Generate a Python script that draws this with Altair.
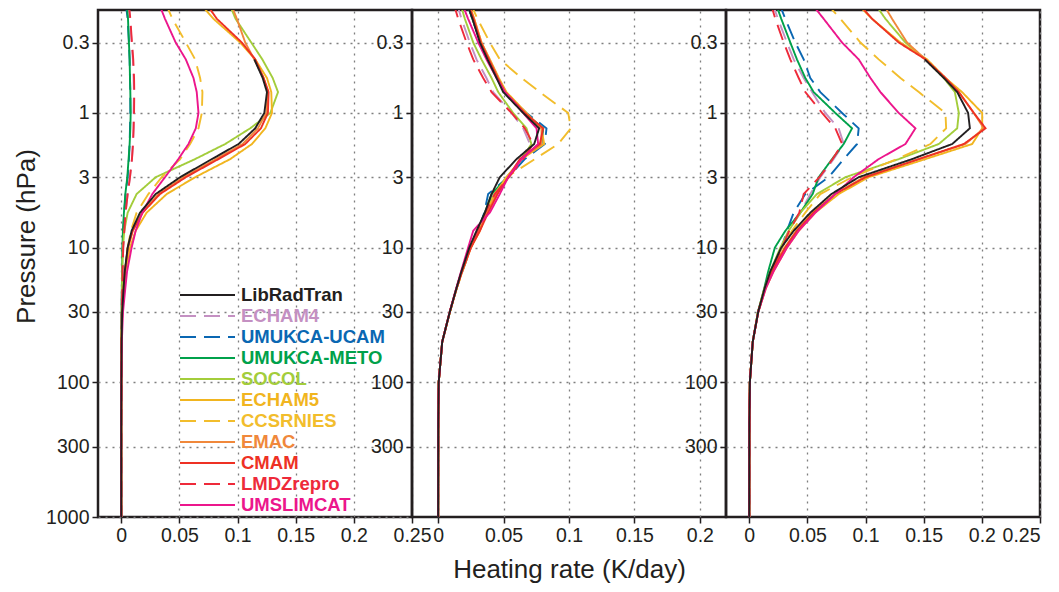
import altair as alt
import pandas as pd

LEVELS = [0.15, 0.2, 0.3, 0.4, 0.55, 0.7, 1.0, 1.3, 1.7, 2.2, 3.0, 4.0, 5.5, 7.5, 10, 15, 20, 30, 50, 100, 200, 1000]

MODELS = ["LibRadTran", "ECHAM4", "UMUKCA-UCAM", "UMUKCA-METO", "SOCOL", "ECHAM5",
          "CCSRNIES", "EMAC", "CMAM", "LMDZrepro", "UMSLIMCAT"]
COLORS = ["#231f20", "#c490c2", "#0a67b2", "#00a14b", "#a3cd3b", "#f1b51f",
          "#f2bd2c", "#f0883b", "#ee3124", "#ee2a3a", "#ec168c"]
DASHES = [[1, 0], [16, 8], [16, 8], [1, 0], [1, 0], [1, 0],
          [16, 8], [1, 0], [1, 0], [16, 8], [1, 0]]
DRAW_ORDER = ["ECHAM4", "UMUKCA-UCAM", "UMUKCA-METO", "SOCOL", "ECHAM5", "CCSRNIES",
              "EMAC", "CMAM", "LMDZrepro", "UMSLIMCAT", "LibRadTran"]

# Panel 1
A_LIBRADTRAN = [None, None, None, 0.1144, 0.1216, 0.1253, 0.1230, 0.1152, 0.1009, 0.0779, 0.0506, 0.0296, 0.0161, 0.0089, 0.0055, 0.0030, 0.0020, 0.0008, 0.0003, 0.0001, 0.0, 0.0]
A_ECHAM4 = [0.0060, 0.0075, 0.0089, 0.0100, 0.0106, 0.0109, 0.0106, 0.0106, 0.0100, 0.0092, 0.0075, 0.0055, 0.0037, 0.0026, 0.0017, 0.0011, 0.0009, 0.0004, 0.0002, 0.0001, 0.0, 0.0]
A_UCAM = [0.0037, 0.0055, 0.0066, 0.0072, 0.0075, 0.0078, 0.0078, 0.0075, 0.0072, 0.0066, 0.0055, 0.0037, 0.0026, 0.0017, 0.0012, 0.0009, 0.0006, 0.0003, 0.0001, 0.0, 0.0, 0.0]
A_METO = [0.0046, 0.0058, 0.0066, 0.0072, 0.0075, 0.0078, 0.0081, 0.0078, 0.0072, 0.0063, 0.0052, 0.0035, 0.0023, 0.0014, 0.0010, 0.0007, 0.0005, 0.0003, 0.0001, 0.0, 0.0, 0.0]
A_SOCOL = [0.0923, 0.0983, 0.1118, 0.1213, 0.1302, 0.1348, 0.1282, 0.1109, 0.0894, 0.0635, 0.0296, 0.0132, 0.0055, 0.0026, 0.0014, 0.0009, 0.0006, 0.0003, 0.0001, 0.0, 0.0, 0.0]
A_ECHAM5 = [0.0664, 0.0793, 0.1023, 0.1152, 0.1253, 0.1290, 0.1296, 0.1239, 0.1124, 0.0937, 0.0635, 0.0391, 0.0218, 0.0124, 0.0075, 0.0037, 0.0023, 0.0009, 0.0003, 0.0001, 0.0, 0.0]
A_CCSRNIES = [0.0376, 0.0440, 0.0555, 0.0635, 0.0678, 0.0698, 0.0693, 0.0664, 0.0592, 0.0506, 0.0348, 0.0233, 0.0132, 0.0083, 0.0055, 0.0032, 0.0020, 0.0008, 0.0003, 0.0001, 0.0, 0.0]
A_EMAC = [0.0937, 0.0994, 0.1066, 0.1144, 0.1224, 0.1261, 0.1247, 0.1175, 0.1043, 0.0813, 0.0534, 0.0319, 0.0181, 0.0098, 0.0057, 0.0032, 0.0020, 0.0008, 0.0003, 0.0001, 0.0, 0.0]
A_CMAM = [0.0721, 0.0822, 0.1037, 0.1152, 0.1224, 0.1267, 0.1261, 0.1201, 0.1066, 0.0836, 0.0555, 0.0333, 0.0184, 0.0098, 0.0057, 0.0032, 0.0020, 0.0008, 0.0003, 0.0001, 0.0, 0.0]
A_LMDZ = [0.0063, 0.0078, 0.0092, 0.0103, 0.0110, 0.0112, 0.0110, 0.0106, 0.0101, 0.0092, 0.0075, 0.0055, 0.0037, 0.0026, 0.0017, 0.0011, 0.0009, 0.0004, 0.0002, 0.0001, 0.0, 0.0]
A_UMSLIMCAT = [0.0319, 0.0376, 0.0468, 0.0555, 0.0621, 0.0649, 0.0664, 0.0641, 0.0578, 0.0491, 0.0376, 0.0267, 0.0181, 0.0124, 0.0089, 0.0050, 0.0035, 0.0015, 0.0005, 0.0001, 0.0, 0.0]

# Panel 2
B_LIBRADTRAN = [0.0217, 0.0262, 0.0319, 0.0377, 0.0446, 0.0497, 0.0650, 0.0772, 0.0734, 0.0599, 0.0471, 0.0408, 0.0357, 0.0293, 0.0238, 0.0178, 0.0140, 0.0089, 0.0031, 0.0004, 0.0001, 0.0]
B_ECHAM4 = [0.0140, 0.0178, 0.0242, 0.0293, 0.0369, 0.0420, 0.0561, 0.0650, 0.0701, 0.0637, 0.0522, 0.0420, 0.0357, 0.0306, 0.0245, 0.0180, 0.0140, 0.0089, 0.0031, 0.0004, 0.0001, 0.0]
B_UCAM = [0.0217, 0.0262, 0.0324, 0.0387, 0.0454, 0.0510, 0.0675, 0.0828, 0.0815, 0.0662, 0.0535, 0.0382, 0.0352, 0.0306, 0.0250, 0.0185, 0.0142, 0.0090, 0.0031, 0.0004, 0.0001, 0.0]
B_METO = [0.0217, 0.0262, 0.0324, 0.0387, 0.0454, 0.0510, 0.0662, 0.0803, 0.0790, 0.0637, 0.0530, 0.0408, 0.0357, 0.0306, 0.0245, 0.0180, 0.0140, 0.0089, 0.0031, 0.0004, 0.0001, 0.0]
B_SOCOL = [0.0166, 0.0204, 0.0268, 0.0331, 0.0408, 0.0459, 0.0573, 0.0675, 0.0713, 0.0637, 0.0530, 0.0428, 0.0362, 0.0306, 0.0245, 0.0180, 0.0140, 0.0089, 0.0031, 0.0004, 0.0001, 0.0]
B_ECHAM5 = [0.0229, 0.0275, 0.0331, 0.0395, 0.0464, 0.0522, 0.0675, 0.0790, 0.0810, 0.0637, 0.0522, 0.0433, 0.0369, 0.0319, 0.0250, 0.0185, 0.0142, 0.0090, 0.0031, 0.0004, 0.0001, 0.0]
B_CCSRNIES = [0.0242, 0.0301, 0.0395, 0.0471, 0.0637, 0.0777, 0.0994, 0.1014, 0.0917, 0.0739, 0.0522, 0.0446, 0.0369, 0.0306, 0.0250, 0.0185, 0.0142, 0.0090, 0.0031, 0.0004, 0.0001, 0.0]
B_EMAC = [0.0229, 0.0275, 0.0331, 0.0392, 0.0459, 0.0515, 0.0668, 0.0790, 0.0790, 0.0637, 0.0540, 0.0446, 0.0377, 0.0313, 0.0250, 0.0183, 0.0141, 0.0089, 0.0031, 0.0004, 0.0001, 0.0]
B_CMAM = [0.0224, 0.0270, 0.0326, 0.0387, 0.0454, 0.0510, 0.0662, 0.0803, 0.0777, 0.0624, 0.0535, 0.0454, 0.0382, 0.0319, 0.0250, 0.0183, 0.0141, 0.0089, 0.0031, 0.0004, 0.0001, 0.0]
B_LMDZ = [0.0115, 0.0153, 0.0217, 0.0268, 0.0344, 0.0408, 0.0561, 0.0662, 0.0726, 0.0650, 0.0540, 0.0433, 0.0362, 0.0301, 0.0245, 0.0180, 0.0140, 0.0089, 0.0031, 0.0004, 0.0001, 0.0]
B_UMSLIMCAT = [0.0178, 0.0229, 0.0306, 0.0369, 0.0446, 0.0510, 0.0650, 0.0752, 0.0764, 0.0637, 0.0535, 0.0471, 0.0395, 0.0268, 0.0229, 0.0175, 0.0138, 0.0088, 0.0031, 0.0004, 0.0001, 0.0]

# Panel 3
C_LIBRADTRAN = [None, None, None, 0.1509, 0.1673, 0.1788, 0.1882, 0.1897, 0.1745, 0.1400, 0.0941, 0.0706, 0.0525, 0.0382, 0.0275, 0.0181, 0.0132, 0.0077, 0.0030, 0.0005, 0.0001, 0.0]
C_ECHAM4 = [0.0195, 0.0247, 0.0324, 0.0382, 0.0468, 0.0540, 0.0654, 0.0769, 0.0812, 0.0726, 0.0611, 0.0525, 0.0439, 0.0339, 0.0281, 0.0195, 0.0138, 0.0075, 0.0030, 0.0005, 0.0001, 0.0]
C_UCAM = [0.0253, 0.0310, 0.0396, 0.0468, 0.0525, 0.0611, 0.0798, 0.0941, 0.0927, 0.0812, 0.0683, 0.0482, 0.0382, 0.0324, 0.0278, 0.0195, 0.0138, 0.0075, 0.0030, 0.0005, 0.0001, 0.0]
C_METO = [0.0224, 0.0275, 0.0353, 0.0410, 0.0482, 0.0554, 0.0740, 0.0884, 0.0812, 0.0712, 0.0597, 0.0545, 0.0439, 0.0310, 0.0220, 0.0163, 0.0129, 0.0075, 0.0030, 0.0005, 0.0001, 0.0]
C_SOCOL = [0.1070, 0.1171, 0.1343, 0.1515, 0.1673, 0.1768, 0.1802, 0.1788, 0.1630, 0.1286, 0.0826, 0.0582, 0.0439, 0.0339, 0.0267, 0.0181, 0.0132, 0.0075, 0.0030, 0.0005, 0.0001, 0.0]
C_ECHAM5 = [0.0912, 0.1056, 0.1300, 0.1529, 0.1687, 0.1830, 0.2003, 0.2003, 0.1917, 0.1515, 0.1027, 0.0769, 0.0568, 0.0425, 0.0324, 0.0209, 0.0143, 0.0078, 0.0030, 0.0005, 0.0001, 0.0]
C_CCSRNIES = [0.0654, 0.0783, 0.0956, 0.1113, 0.1300, 0.1458, 0.1687, 0.1693, 0.1558, 0.1271, 0.0884, 0.0611, 0.0482, 0.0367, 0.0281, 0.0189, 0.0132, 0.0075, 0.0030, 0.0005, 0.0001, 0.0]
C_EMAC = [0.1142, 0.1228, 0.1357, 0.1515, 0.1687, 0.1802, 0.1931, 0.2017, 0.1859, 0.1458, 0.0984, 0.0735, 0.0545, 0.0405, 0.0304, 0.0195, 0.0138, 0.0077, 0.0030, 0.0005, 0.0001, 0.0]
C_CMAM = [0.0927, 0.1056, 0.1286, 0.1515, 0.1687, 0.1802, 0.1931, 0.2032, 0.1845, 0.1458, 0.0999, 0.0740, 0.0554, 0.0410, 0.0310, 0.0195, 0.0138, 0.0077, 0.0030, 0.0005, 0.0001, 0.0]
C_LMDZ = [0.0181, 0.0224, 0.0296, 0.0353, 0.0425, 0.0482, 0.0626, 0.0740, 0.0798, 0.0717, 0.0603, 0.0468, 0.0430, 0.0344, 0.0281, 0.0195, 0.0138, 0.0075, 0.0030, 0.0005, 0.0001, 0.0]
C_UMSLIMCAT = [0.0525, 0.0640, 0.0798, 0.0941, 0.1042, 0.1128, 0.1286, 0.1429, 0.1343, 0.1113, 0.0898, 0.0740, 0.0568, 0.0425, 0.0324, 0.0209, 0.0143, 0.0078, 0.0030, 0.0005, 0.0001, 0.0]

Y_TICKS_FIRST = [0.3, 1, 3, 10, 30, 100, 300, 1000]
Y_TICKS_OTHER = [0.3, 1, 3, 10, 30, 100, 300]
X_TICKS_WIDE = [0, 0.05, 0.1, 0.15, 0.2, 0.25]
X_TICKS_MID = [0, 0.05, 0.1, 0.15, 0.2]

PANEL_A = {"LibRadTran": A_LIBRADTRAN, "ECHAM4": A_ECHAM4, "UMUKCA-UCAM": A_UCAM,
           "UMUKCA-METO": A_METO, "SOCOL": A_SOCOL, "ECHAM5": A_ECHAM5,
           "CCSRNIES": A_CCSRNIES, "EMAC": A_EMAC, "CMAM": A_CMAM,
           "LMDZrepro": A_LMDZ, "UMSLIMCAT": A_UMSLIMCAT}
PANEL_B = {"LibRadTran": B_LIBRADTRAN, "ECHAM4": B_ECHAM4, "UMUKCA-UCAM": B_UCAM,
           "UMUKCA-METO": B_METO, "SOCOL": B_SOCOL, "ECHAM5": B_ECHAM5,
           "CCSRNIES": B_CCSRNIES, "EMAC": B_EMAC, "CMAM": B_CMAM,
           "LMDZrepro": B_LMDZ, "UMSLIMCAT": B_UMSLIMCAT}
PANEL_C = {"LibRadTran": C_LIBRADTRAN, "ECHAM4": C_ECHAM4, "UMUKCA-UCAM": C_UCAM,
           "UMUKCA-METO": C_METO, "SOCOL": C_SOCOL, "ECHAM5": C_ECHAM5,
           "CCSRNIES": C_CCSRNIES, "EMAC": C_EMAC, "CMAM": C_CMAM,
           "LMDZrepro": C_LMDZ, "UMSLIMCAT": C_UMSLIMCAT}


def to_frame(panel):
    rows = []
    for m in DRAW_ORDER:
        for i, (p, v) in enumerate(zip(LEVELS, panel[m])):
            if v is not None:
                rows.append({"model": m, "p": p, "hr": v, "lev": i})
    return pd.DataFrame(rows)


FONT = "Liberation Sans, Arial, Helvetica, sans-serif"

color_expr = " : ".join(
    f"datum.value == '{m}' ? '{c}'" for m, c in zip(MODELS, COLORS)
) + " : '#231f20'"


def panel(df, xdomain, xticks, yticks, xtitle=None, ytitle=None, legend=False, flush=False):
    if legend:
        leg = alt.Legend(orient="none", legendX=81, legendY=276, title=None,
                         symbolType="stroke", symbolSize=3025, symbolStrokeWidth=2,
                         clipHeight=18, rowPadding=2, padding=0,
                         labelFont=FONT, labelFontSize=18.5, labelFontWeight="bold",
                         labelOffset=5, labelColor={"expr": color_expr})
    else:
        leg = None
    xaxis = dict(values=xticks, format="~g", labelFlush=flush, title=xtitle)
    yaxis = dict(values=yticks, format="~g", title=ytitle)
    if ytitle:
        yaxis["titleY"] = 226
    return alt.Chart(df).mark_line(clip=True, strokeWidth=1.9).encode(
        x=alt.X("hr:Q", scale=alt.Scale(domain=xdomain, nice=False, zero=False),
                axis=alt.Axis(**xaxis)),
        y=alt.Y("p:Q", scale=alt.Scale(type="log", domain=[0.172, 1000], reverse=True, nice=False),
                axis=alt.Axis(**yaxis)),
        color=alt.Color("model:N", scale=alt.Scale(domain=MODELS, range=COLORS), legend=leg),
        strokeDash=alt.StrokeDash("model:N", scale=alt.Scale(domain=MODELS, range=DASHES), legend=leg),
        order=alt.Order("lev:Q"),
    ).properties(width=314, height=507)


p1 = panel(to_frame(PANEL_A), [-0.02, 0.25], X_TICKS_WIDE, Y_TICKS_FIRST,
           ytitle="Pressure (hPa)", legend=True)
p2 = panel(to_frame(PANEL_B), [-0.02, 0.22], X_TICKS_MID, Y_TICKS_OTHER,
           xtitle="Heating rate (K/day)")
p3 = panel(to_frame(PANEL_C), [-0.02, 0.25], X_TICKS_WIDE, Y_TICKS_OTHER, flush=True)

chart = alt.hconcat(p1, p2, p3, spacing=0, bounds="flush").resolve_legend(
    color="independent", strokeDash="independent"
).properties(
    padding={"left": 4, "top": 0, "right": 0, "bottom": 0}
).configure_view(
    stroke="#231f20", strokeWidth=2.5
).configure_axis(
    domain=False, grid=True, gridColor="#7f7f7f", gridDash=[2, 5], gridWidth=1.3,
    tickColor="#231f20", tickSize=6, tickWidth=1.5,
    labelFont=FONT, labelFontSize=19.5, labelColor="#231f20",
    titleFont=FONT, titleFontSize=26, titleFontWeight="normal", titleColor="#231f20"
).configure_axisX(labelPadding=3, titlePadding=12).configure_axisY(labelPadding=3, titlePadding=6)

chart.save("out.html", embed_options={"renderer": "svg", "actions": False})
